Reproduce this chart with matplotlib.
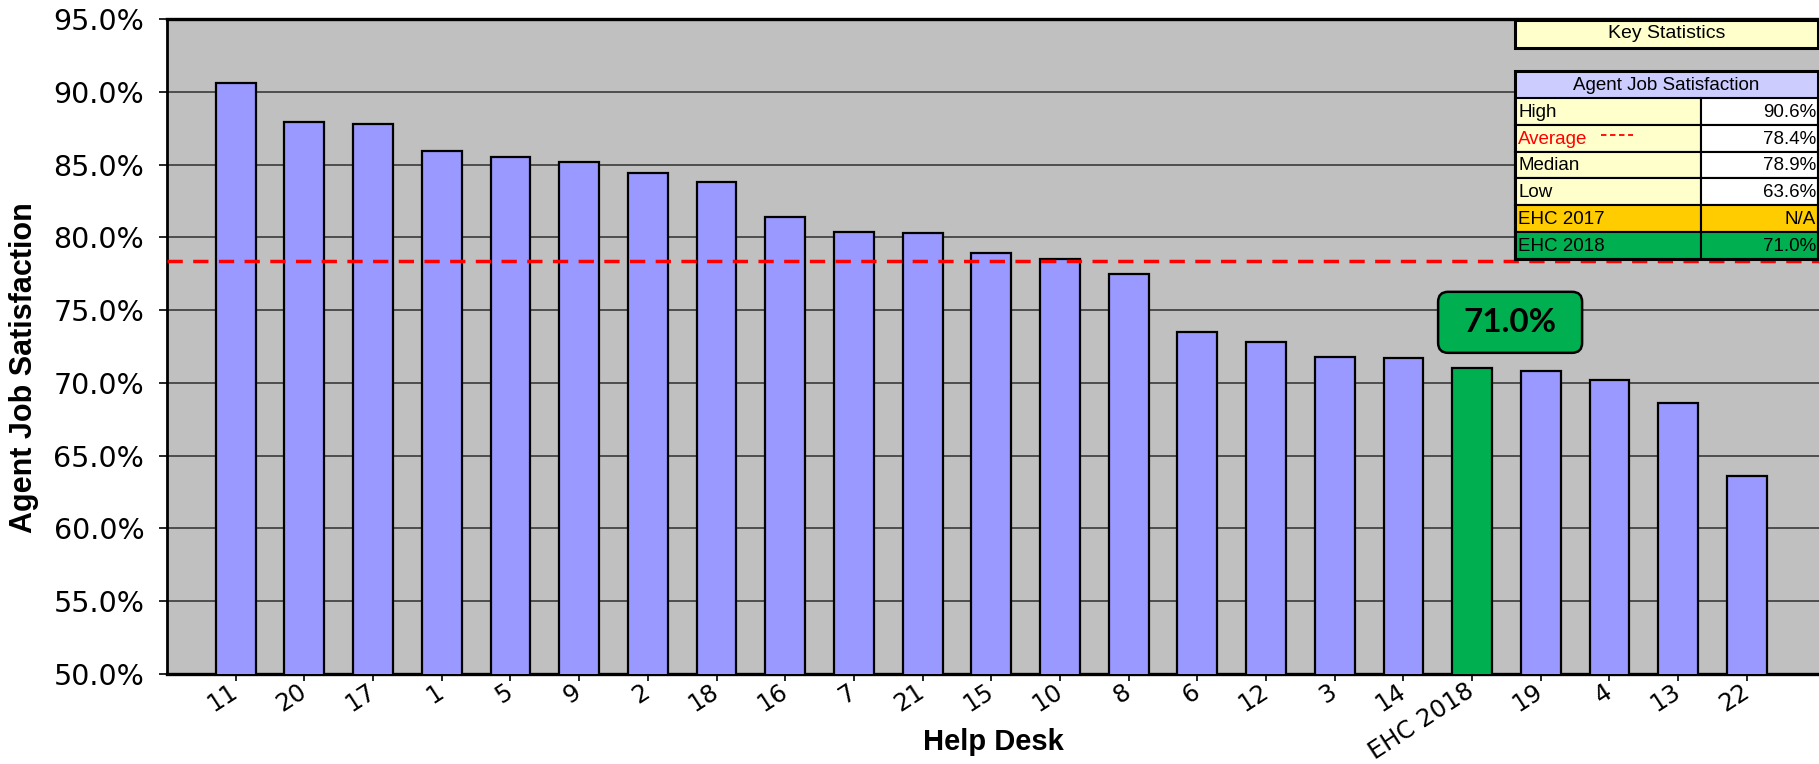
import matplotlib
matplotlib.use('Agg')
import matplotlib.pyplot as plt
import matplotlib.transforms as mtransforms
from matplotlib.patches import Rectangle, FancyBboxPatch
from matplotlib.lines import Line2D
import numpy as np

# ---------------- data ----------------
desks = ['11', '20', '17', '1', '5', '9', '2', '18', '16', '7', '21', '15', '10',
         '8', '6', '12', '3', '14', 'EHC 2018', '19', '4', '13', '22']
satisfaction = [90.6, 87.9, 87.8, 85.9, 85.5, 85.2, 84.4, 83.8, 81.4, 80.4, 80.3,
                78.9, 78.5, 77.5, 73.5, 72.8, 71.8, 71.7, 71.0, 70.8, 70.2, 68.6, 63.6]
highlight = 'EHC 2018'
yticks = [50, 55, 60, 65, 70, 75, 80, 85, 90, 95]
average = 78.4

stat_labels = ['High', 'Average', 'Median', 'Low', 'EHC 2017', 'EHC 2018']
stat_values = ['90.6%', '78.4%', '78.9%', '63.6%', 'N/A', '71.0%']

# ---------------- figure ----------------
W, H = 1819, 764
fig = plt.figure(figsize=(W / 100, H / 100), dpi=100)
fig.patch.set_facecolor('white')


def px_rect(l, t, r, b):
    return [l / W, 1 - b / H, (r - l) / W, (b - t) / H]


ax = fig.add_axes(px_rect(167, 19, 1819, 674))
ax.set_facecolor('#C0C0C0')

x = np.arange(len(desks))
colors = ['#00B050' if d == highlight else '#9999FF' for d in desks]
ax.bar(x, satisfaction, width=0.58, color=colors, edgecolor='black',
       linewidth=1.6, zorder=3)

ax.axhline(average, color='#FF0000', lw=2.5, dashes=(4.4, 3.0), zorder=4)

ax.set_ylim(50, 95)
ax.set_xlim(-1.0, 23.05)
ax.set_yticks(yticks)
ax.set_yticklabels([f'{v:.1f}%' for v in yticks], family='DejaVu Sans', fontsize=20.5)
ax.set_xticks(x)
ax.set_xticklabels(desks, rotation=33, ha='right', va='center',
                   rotation_mode='anchor', family='DejaVu Sans', fontsize=17.5)
ax.tick_params(axis='y', direction='out', length=5.8, width=1.2, pad=10.5)
ax.tick_params(axis='x', direction='out', length=5, width=1.2, pad=6)

ax.set_axisbelow(True)
ax.yaxis.grid(True, color='#3a3a3a', lw=1.2)
ax.xaxis.grid(False)

for s in ['left', 'bottom', 'top']:
    ax.spines[s].set_color('black')
ax.spines['left'].set_linewidth(2.0)
ax.spines['bottom'].set_linewidth(2.4)
ax.spines['top'].set_linewidth(2.4)
ax.spines['right'].set_visible(False)

# axis labels
fig.text(24 / W, 1 - 368 / H, 'Agent Job Satisfaction', rotation=90, ha='center',
         va='center', fontsize=22, weight='bold', family='Liberation Sans')
fig.text(993 / W, 1 - 742 / H, 'Help Desk', ha='center', va='center',
         fontsize=21, weight='bold', family='Liberation Sans')

# highlight callout
idx = desks.index(highlight)
val = satisfaction[idx]
trans = fig.dpi_scale_trans + mtransforms.ScaledTranslation(idx, val, ax.transData)
cx, cy, bw, bh = 0.38, 0.46, 1.44, 0.61
box = FancyBboxPatch((cx - bw / 2, cy - bh / 2), bw, bh,
                     boxstyle='round,pad=0,rounding_size=0.1',
                     transform=trans, fc='#00B050', ec='black', lw=1.8, zorder=6)
fig.add_artist(box)
fig.text(cx, cy, f'{val:.1f}%', transform=trans, ha='center', va='center',
         fontsize=24, weight='bold', family='Lato', zorder=7)

# ---------------- key statistics table ----------------
pxT = mtransforms.Affine2D().scale(1 / W, -1 / H).translate(0, 1) + fig.transFigure


def cell(l, t, r, b, fc, lw=1.5):
    rct = Rectangle((l, t), r - l, b - t, transform=pxT, fc=fc, ec='black',
                    lw=lw, zorder=8)
    fig.add_artist(rct)


tl, tr, tm = 1515, 1818, 1701
cell(tl, 20, tr, 48, '#FFFFCC', lw=2.2)
fig.text((tl + tr) / 2, 34, 'Key Statistics', transform=pxT, ha='center',
         va='center', fontsize=14, family='Liberation Sans', zorder=9)

cell(tl, 71, tr, 98, '#CCCCFF', lw=1.8)
fig.text((tl + tr) / 2, 85, 'Agent Job Satisfaction', transform=pxT, ha='center',
         va='center', fontsize=13.5, family='Liberation Sans', zorder=9)

row_top, row_h = 98, 26.8
label_fc = ['#FFFFCC', '#FFFFCC', '#FFFFCC', '#FFFFCC', '#FFCC00', '#00B050']
value_fc = ['white', 'white', 'white', 'white', '#FFCC00', '#00B050']
for i, (lab, v) in enumerate(zip(stat_labels, stat_values)):
    t = row_top + i * row_h
    b = t + row_h
    cell(tl, t, tm, b, label_fc[i])
    cell(tm, t, tr, b, value_fc[i])
    col = '#FF0000' if lab == 'Average' else 'black'
    fig.text(tl + 3, (t + b) / 2 + 1, lab, transform=pxT, ha='left', va='center',
             fontsize=13.5, family='Liberation Sans', color=col, zorder=9)
    fig.text(tr - 2, (t + b) / 2 + 1, v, transform=pxT, ha='right', va='center',
             fontsize=13.5, family='Liberation Sans', zorder=9)
    if lab == 'Average':
        ln = Line2D([1601, 1633], [t + 10, t + 10], transform=pxT, color='#FF0000',
                    lw=1.3, dashes=(3, 2), zorder=9)
        fig.add_artist(ln)

# thicker outer border of the table
outer = Rectangle((tl, 71), tr - tl, row_top + 6 * row_h - 71, transform=pxT,
                  fc='none', ec='black', lw=2.2, zorder=10)
fig.add_artist(outer)

fig.savefig('out.png', dpi=100)
